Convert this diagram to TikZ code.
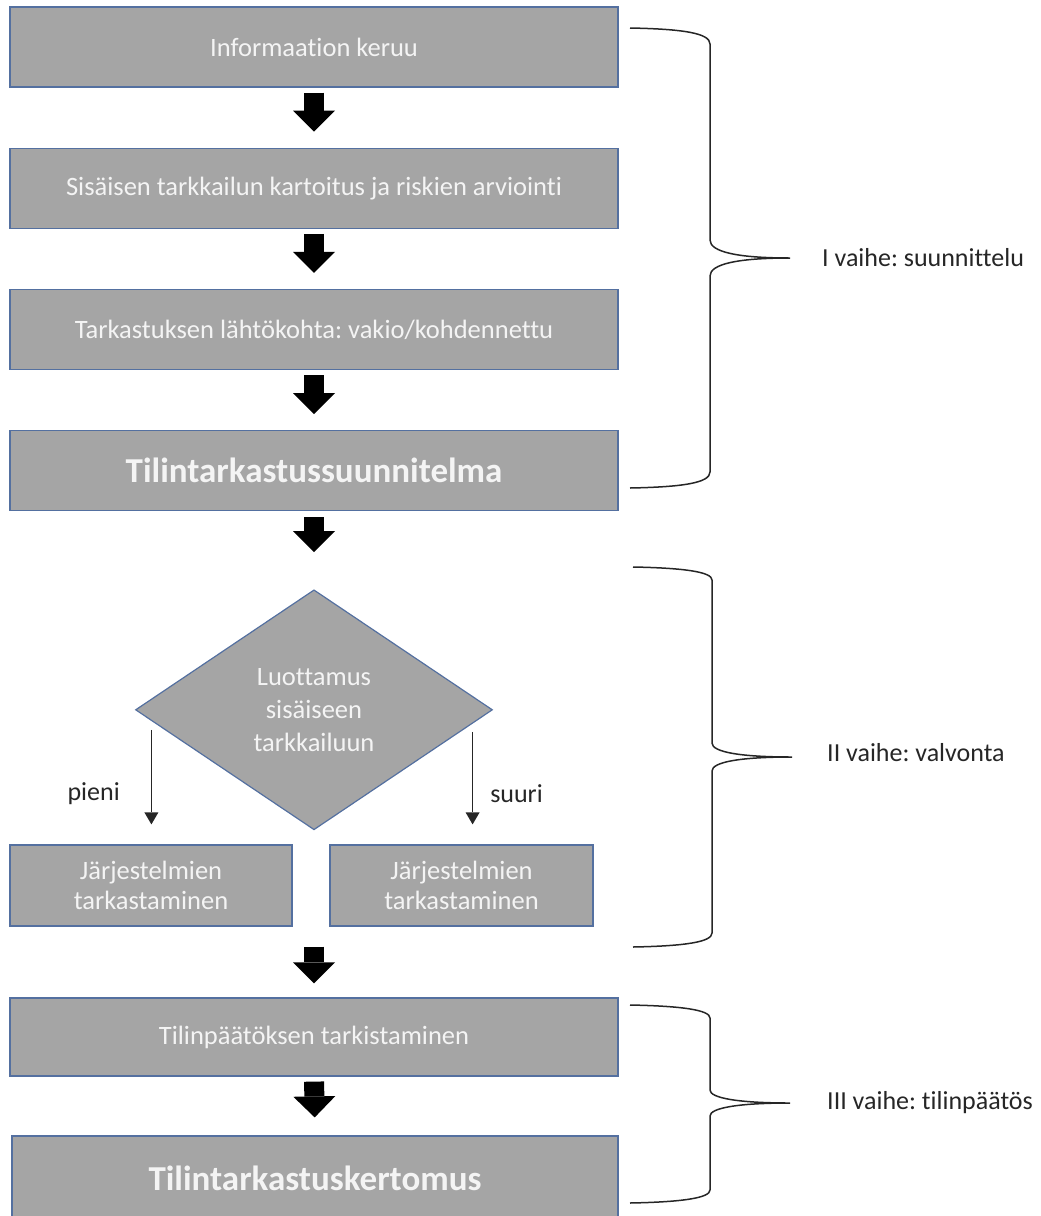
\documentclass[tikz,border=0pt]{standalone}
\usepackage{fontspec}
\setmainfont{Carlito}[Ligatures={NoCommon}]
\usetikzlibrary{positioning,shapes.geometric,arrows.meta}
\definecolor{boxgray}{HTML}{A5A5A5}
\definecolor{boxedge}{HTML}{5470A0}
\definecolor{boxtext}{HTML}{F4F4F4}
\definecolor{inkgray}{HTML}{262626}
\frenchspacing

\begin{document}
\begin{tikzpicture}[x=1pt, y=-1pt, node distance=60pt,
  block/.style={draw=boxedge, line width=1.2pt, fill=boxgray, text=boxtext, minimum width=608pt, minimum height=80pt, inner sep=0pt, align=center, font=\fontsize{26.5}{30}\selectfont},
  titleblock/.style={block, font=\fontsize{35}{40}\selectfont\bfseries},
  decision/.style={diamond, draw=boxedge, line width=1.2pt, fill=boxgray, text=boxtext, minimum width=357pt, minimum height=240pt, aspect=1.49, inner sep=0pt, align=center, font=\fontsize{26.5}{33}\selectfont},
  bigarrow/.style={black, line width=20pt, -{Triangle[length=21pt, width=42pt, line width=0pt]}},
  thinarrow/.style={inkgray, line width=1.3pt, -{Triangle[length=12pt, width=14pt, line width=0pt]}},
  brace/.style={inkgray, line width=1.5pt},
  lbl/.style={inner sep=0pt, text=inkgray, font=\fontsize{26}{30}\selectfont}]

  \useasboundingbox (0,0) rectangle (1041,1216);

  % Planning column
  \node[block] (info) at (314,47) {Informaation keruu};
  \node[block, below=of info] (kartoitus) {Sisäisen tarkkailun kartoitus ja riskien arviointi};
  \node[block, below=of kartoitus] (lahto) {Tarkastuksen lähtökohta: vakio/kohdennettu};
  \node[titleblock, below=of lahto] (suunnitelma) {Tilintarkastussuunnitelma};

  % Decision
  \node[decision, below=78pt of suunnitelma] (luottamus) {Luottamus\\sisäiseen\\tarkkailuun};
  \node[block, minimum width=282pt, minimum height=81pt] (pieniB) at (151,885.5) {Järjestelmien\\tarkastaminen};
  \node[block, minimum width=263pt, minimum height=81pt] (suuriB) at (461.5,885.5) {Järjestelmien\\tarkastaminen};

  % Closing
  \node[block, minimum height=78pt] (tilinpaatos) at (314,1037) {Tilinpäätöksen tarkistaminen};
  \node[titleblock, minimum width=606pt, minimum height=84pt] (kertomus) at (315,1178) {Tilintarkastuskertomus};

  % Block arrows
  \draw[bigarrow, shorten <=5pt, shorten >=16pt] (info.south) -- (kartoitus.north);
  \draw[bigarrow, shorten <=5pt, shorten >=16pt] (kartoitus.south) -- (lahto.north);
  \draw[bigarrow, shorten <=5pt, shorten >=16pt] (lahto.south) -- (suunnitelma.north);
  \draw[bigarrow, shorten <=6pt, shorten >=37pt] (suunnitelma.south) -- (luottamus.north);
  \coordinate (valvontaEnd) at (pieniB.south -| tilinpaatos.north);
  \draw[bigarrow, shorten <=20pt, shorten >=14pt] (valvontaEnd) -- (tilinpaatos.north);
  \draw[bigarrow, shorten <=5pt, shorten >=18pt] (tilinpaatos.south) -- (kertomus.north);

  % Decision arrows
  \coordinate (pieniStart) at ([xshift=16.5pt, yshift=-20pt]luottamus.west);
  \coordinate (suuriStart) at ([xshift=-20.5pt, yshift=-22pt]luottamus.east);
  \draw[thinarrow, shorten >=20pt] (pieniStart) -- (pieniStart |- pieniB.north)
    node[lbl, pos=0.56, left=31pt] (pieniL) {pieni};
  \draw[thinarrow, shorten >=20pt] (suuriStart) -- (suuriStart |- suuriB.north)
    node[lbl, pos=0.55, right=17pt] (suuriL) {suuri};

  % Phase braces
  \draw[brace] (630,28) .. controls (682,29) and (710,33) .. (710,44) -- (710,240)
    .. controls (710,252) and (738,258) .. (790,258) .. controls (738,258) and (710,264) .. (710,276)
    -- (710,472) .. controls (710,483) and (682,487) .. (630,488);
  \draw[brace] (633,567) .. controls (685,568) and (712,572) .. (712,580) -- (712,743)
    .. controls (712,752) and (740,757) .. (792,757) .. controls (740,757) and (712,762) .. (712,771)
    -- (712,933) .. controls (712,942) and (685,946) .. (633,947);
  \draw[brace] (630,1005) .. controls (682,1006) and (710,1010) .. (710,1018) -- (710,1090)
    .. controls (710,1098) and (738,1103) .. (790,1103) .. controls (738,1103) and (710,1108) .. (710,1116)
    -- (710,1190) .. controls (710,1198) and (682,1202) .. (630,1203);
  \coordinate (suunnitteluTip) at (790,258);
  \coordinate (valvontaTip) at (792,753);
  \coordinate (tilinpaatosTip) at (790,1103);

  % Phase labels
  \node[lbl, right=32pt of suunnitteluTip] (suunnitteluL) {I vaihe: suunnittelu};
  \node[lbl, right=35pt of valvontaTip] (valvontaL) {II vaihe: valvonta};
  \node[lbl, right=37pt of tilinpaatosTip] (tilinpaatosL) {III vaihe: tilinpäätös};

\end{tikzpicture}
\end{document}
